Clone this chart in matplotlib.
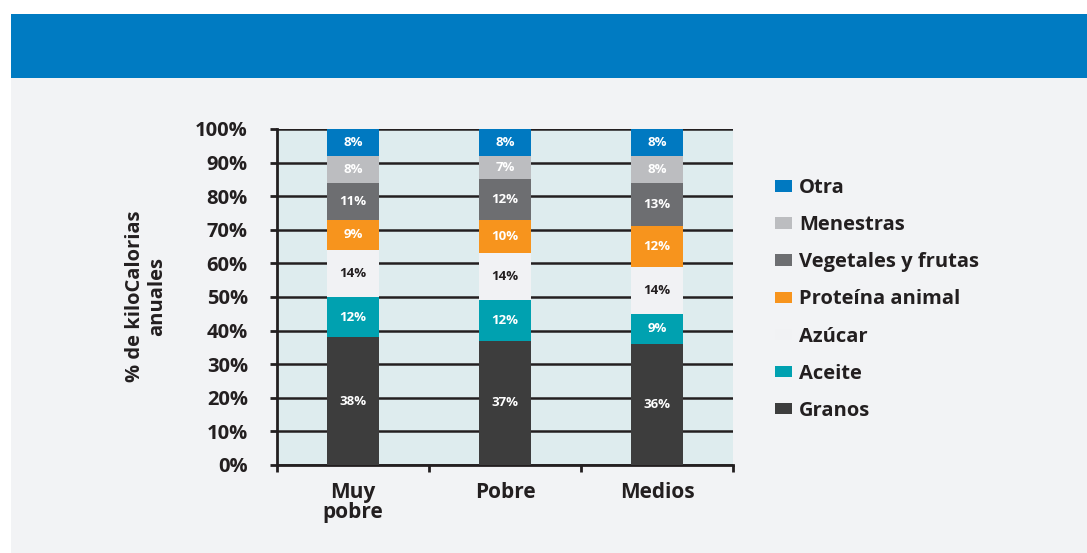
import numpy as np
from matplotlib import pyplot as plt
from matplotlib.patches import Rectangle, Patch

# data
grupos = ['Muy\npobre', 'Pobre', 'Medios']
series = ['Granos', 'Aceite', 'Azúcar', 'Proteína animal', 'Vegetales y frutas', 'Menestras', 'Otra']
granos = [38, 37, 36]
aceite = [12, 12, 9]
azucar = [14, 14, 14]
proteina = [9, 10, 12]
vegetales = [11, 12, 13]
menestras = [8, 7, 8]
otra = [8, 8, 8]
valores = [granos, aceite, azucar, proteina, vegetales, menestras, otra]

colores = ['#3d3d3d', '#00a1b0', '#f1f2f4', '#f7941d', '#6d6e71', '#bcbdc0', '#0079c1']
texto_col = ['white', 'white', '#231f20', 'white', 'white', 'white', 'white']

plt.rcParams['font.family'] = ['Open Sans', 'DejaVu Sans']
plt.rcParams['font.weight'] = 'bold'

W, H = 1087, 553
fig = plt.figure(figsize=(W/100, H/100), dpi=100)
fig.patch.set_facecolor('white')

# background panels (behind the axes)
fig.patches.append(Rectangle((11/W, 0), 1 - 11/W, (H-78)/H, transform=fig.transFigure,
                             facecolor='#f2f3f5', edgecolor='none', zorder=-2))
fig.patches.append(Rectangle((11/W, (H-78)/H), 1 - 11/W, 64/H, transform=fig.transFigure,
                             facecolor='#007bc2', edgecolor='none', zorder=-2))

ax = fig.add_axes([277/W, (H-465)/H, (733-277)/W, (465-129)/H])
ax.set_facecolor('#deecee')

x = np.arange(len(grupos))
bottom = np.zeros(len(grupos))
for nombre, vals, c, tc in zip(series, valores, colores, texto_col):
    vals = np.array(vals)
    ax.bar(x, vals, 0.34, bottom=bottom, color=c, zorder=3, label=nombre)
    for xi, b, v in zip(x, bottom, vals):
        ax.text(xi, b + v/2, '{}%'.format(v), ha='center', va='center',
                color=tc, fontsize=9.5, fontweight='bold', zorder=4)
    bottom += vals

ax.set_xlim(-0.5, 2.5)
ax.set_ylim(0, 100)
ax.set_yticks(range(0, 101, 10))
ax.set_yticklabels(['{}%'.format(v) for v in range(0, 101, 10)], fontsize=14.5, fontweight='bold', color='#231f20')
ax.yaxis.grid(True, color='#231f20', lw=1.8, zorder=1)
ax.set_axisbelow(True)

ax.set_xticks([-0.5, 0.5, 1.5, 2.5])
ax.set_xticklabels([])
ax.set_xticks(x, minor=True)
ax.set_xticklabels(grupos, minor=True, fontsize=15, fontweight='bold', color='#231f20',
                   linespacing=0.95)
ax.tick_params(axis='x', which='minor', length=0, pad=12)
ax.tick_params(axis='x', which='major', length=5, width=2, color='#231f20')
ax.tick_params(axis='y', length=5, width=2, color='#231f20', pad=16)

for s in ['top', 'right']:
    ax.spines[s].set_visible(False)
for s in ['left', 'bottom']:
    ax.spines[s].set_color('#231f20')
    ax.spines[s].set_linewidth(2)

fig.text(146/W, (H-296)/H, '% de kiloCalorias\nanuales', rotation=90, ha='center', va='center',
         fontsize=14.5, fontweight='bold', color='#231f20', linespacing=1.1)

handles = [Patch(facecolor=c, edgecolor='none') for c in colores][::-1]
leg = fig.legend(handles, series[::-1], loc='upper left', bbox_to_anchor=(757/W, (H-160)/H),
                 frameon=False, fontsize=14.5, labelspacing=0.85, handlelength=0.85,
                 handleheight=0.5, handletextpad=0.35)
for t in leg.get_texts():
    t.set_color('#231f20')
    t.set_fontweight('bold')

fig.savefig('out.png', dpi=100, facecolor=fig.get_facecolor())
